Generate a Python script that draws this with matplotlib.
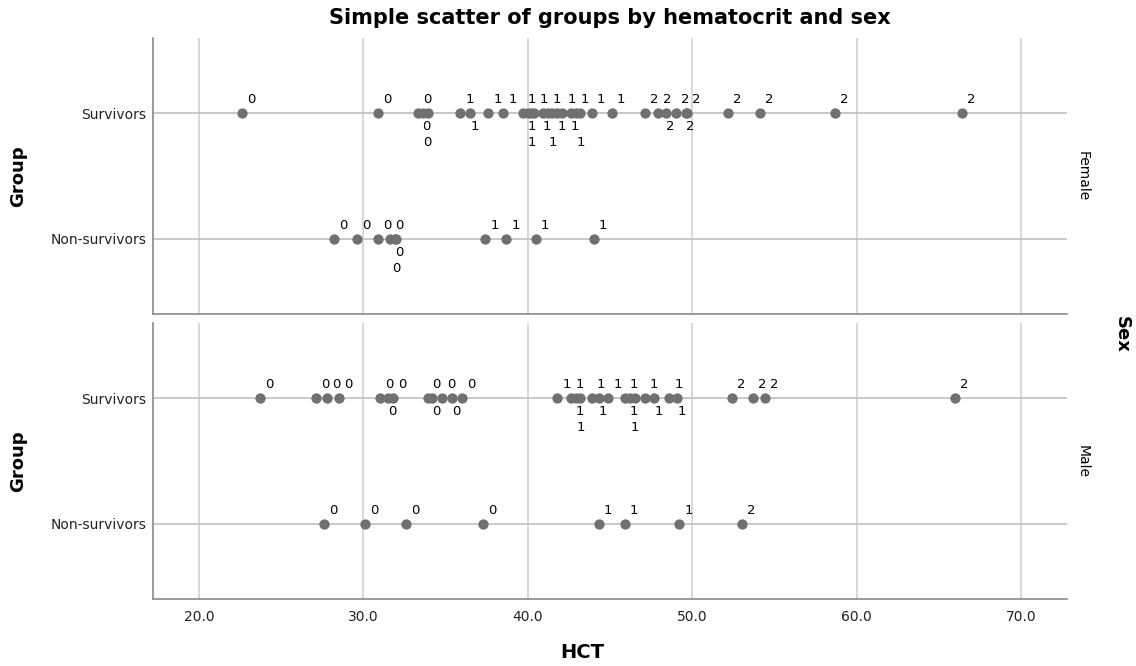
import numpy as np
import matplotlib.pyplot as plt

# HCT values per group, split by the point label (0 / 1 / 2)
groups = ['Non-survivors', 'Survivors']
sexes = ['Female', 'Male']

female_surv = {0: [22.6, 30.9, 33.3, 33.6, 33.9],
               1: [35.9, 36.5, 37.6, 38.5, 39.7, 40.0, 40.2, 40.4, 40.9, 41.2,
                   41.5, 41.8, 42.1, 42.6, 42.9, 43.2, 43.9, 45.1],
               2: [47.1, 47.9, 48.4, 49.0, 49.6, 49.7, 52.2, 54.1, 58.7, 66.4]}
female_nonsurv = {0: [28.2, 29.6, 30.9, 31.6, 31.9, 32.0],
                  1: [37.4, 38.7, 40.5, 44.0],
                  2: []}
male_surv = {0: [23.7, 27.1, 27.8, 28.5, 31.0, 31.5, 31.8, 33.9, 34.2, 34.8,
                 35.4, 36.0],
             1: [41.8, 42.6, 42.9, 43.2, 43.9, 44.3, 44.9, 45.9, 46.2, 46.5,
                 47.1, 47.7, 48.6, 49.1],
             2: [52.4, 53.7, 54.4, 66.0]}
male_nonsurv = {0: [27.6, 30.1, 32.6, 37.3],
                1: [44.3, 45.9, 49.2],
                2: [53.0]}

panels = {'Female': {'Survivors': female_surv, 'Non-survivors': female_nonsurv},
          'Male': {'Survivors': male_surv, 'Non-survivors': male_nonsurv}}

xticks = [20, 30, 40, 50, 60, 70]

DOT = '#707070'
GRID = '#d2d2d2'
LINE = '#c4c4c4'
SPINE = '#8a8a8a'


def overlap(a, b):
    return not (a[2] <= b[0] or b[2] <= a[0] or a[3] <= b[1] or b[3] <= a[1])


def place_labels(ax, xs, ys, labels):
    # rough greedy placement like SPSS: above-right, below, above-left, far below
    cands = [(5, 7, 'left', 'bottom'), (0, -7, 'left', 'top'),
             (-4, 9, 'right', 'bottom'), (-4, -23, 'left', 'top')]
    w, h = 10, 11
    boxes = []
    for i in np.argsort(xs, kind='stable'):
        px, py = ax.transData.transform((xs[i], ys[i]))
        best = None
        for dx, dy, ha, va in cands:
            x0 = px + dx if ha == 'left' else px + dx - w
            y0 = py + dy if va == 'bottom' else py + dy - h
            box = (x0, y0, x0 + w, y0 + h)
            n = sum(overlap(box, b) for b in boxes)
            if best is None or n < best[0]:
                best = (n, dx, dy, ha, va, box)
            if n == 0:
                break
        n, dx, dy, ha, va, box = best
        boxes.append(box)
        ax.annotate(str(labels[i]), (xs[i], ys[i]), xytext=(dx, dy),
                    textcoords='offset pixels', ha=ha, va=va, fontsize=9.5)


fig = plt.figure(figsize=(11.36, 6.66), dpi=100)
positions = {'Female': [0.1347, 0.5285, 0.8046, 0.4144],
             'Male': [0.1347, 0.1006, 0.8046, 0.4144]}

for sex in sexes:
    ax = fig.add_axes(positions[sex])
    ax.set_xlim(17.2, 72.8)
    ax.set_ylim(-0.6, 1.6)
    ax.set_xticks(xticks)
    ax.set_yticks([0, 1])
    ax.set_yticklabels(groups)
    for x in xticks:
        ax.axvline(x, color=GRID, lw=1.2, zorder=0)
    for y in [0, 1]:
        ax.axhline(y, color=LINE, lw=1.3, zorder=1)

    xs, ys, labs = [], [], []
    for gi, g in enumerate(groups):
        for code, vals in panels[sex][g].items():
            xs += vals
            ys += [gi] * len(vals)
            labs += [code] * len(vals)
    xs = np.array(xs)
    ys = np.array(ys)
    ax.scatter(xs, ys, s=55, color=DOT, zorder=3, linewidths=0)
    place_labels(ax, xs, ys, labs)

    for side in ['top', 'right']:
        ax.spines[side].set_visible(False)
    for side in ['left', 'bottom']:
        ax.spines[side].set_color(SPINE)
        ax.spines[side].set_linewidth(1.2)
    ax.tick_params(length=0, labelsize=10, colors='#222222')
    ax.tick_params(axis='y', pad=5)
    ax.tick_params(axis='x', pad=8)
    if sex == 'Female':
        ax.set_xticklabels([])
    else:
        ax.set_xticklabels([f'{x:.1f}' for x in xticks])

    ycen = positions[sex][1] + positions[sex][3] / 2
    fig.text(18 / 1136, ycen, 'Group', rotation=90, ha='center', va='center',
             fontsize=13, fontweight='bold')
    fig.text(1083 / 1136, ycen, sex, rotation=-90, ha='center', va='center',
             fontsize=10)

fig.text(610 / 1136, 1 - 18 / 666, 'Simple scatter of groups by hematocrit and sex',
         ha='center', va='center', fontsize=15, fontweight='bold')
fig.text(582 / 1136, 1 - 652 / 666, 'HCT', ha='center', va='center',
         fontsize=14, fontweight='bold')
fig.text(1122 / 1136, 1 - 334 / 666, 'Sex', rotation=-90, ha='center', va='center',
         fontsize=13, fontweight='bold')

fig.savefig('out.png', dpi=100)
